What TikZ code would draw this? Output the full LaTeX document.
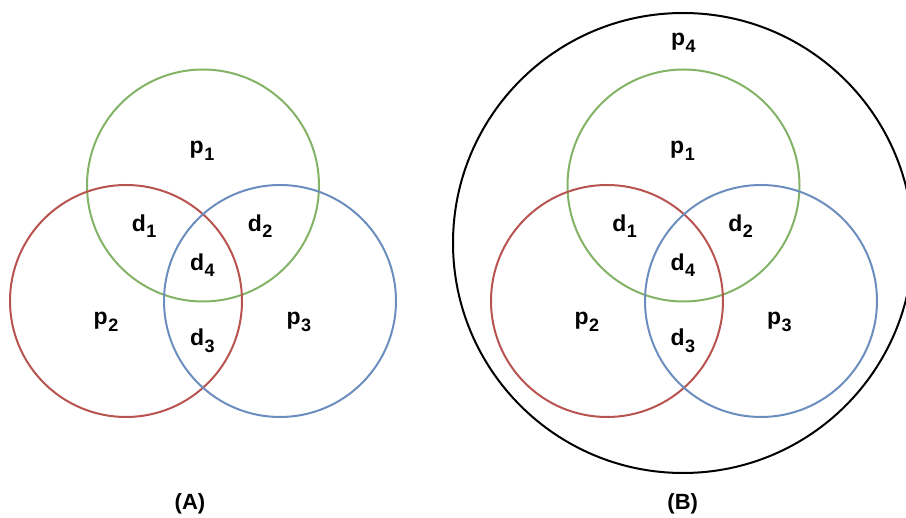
\documentclass[tikz,border=0pt]{standalone}
\usepackage{fontspec}
\setmainfont{Liberation Sans}
\definecolor{vgreen}{HTML}{82B366}
\definecolor{vred}{HTML}{B85450}
\definecolor{vblue}{HTML}{6C8EBF}
\newcommand{\lbl}[2]{#1\kern0.5pt\raisebox{-6.5pt}{\fontsize{18}{20}\selectfont #2}}
\begin{document}
\begin{tikzpicture}[x=1pt,y=-1pt,
  ring/.style={line width=2pt},
  lab/.style={font=\fontsize{23}{27}\selectfont\bfseries, inner sep=0pt, anchor=base},
  captxt/.style={font=\fontsize{22}{26}\selectfont\bfseries, inner sep=0pt, anchor=base}]
\useasboundingbox (0,0) rectangle (906,518);
\begin{scope}
\clip (0,0) rectangle (906,518);
\draw[ring, black] (683,243) circle (230pt);
\end{scope}
% (A)
\draw[ring, vgreen] (203,185.5) circle (116pt);
\draw[ring, vred] (126,301) circle (116pt);
\draw[ring, vblue] (280,301) circle (116pt);
\node[lab] (ap1) at (202,154) {\lbl{p}{1}};
\node[lab] (ad1) at (144.2,231.5) {\lbl{d}{1}};
\node[lab] (ad2) at (260.2,231.5) {\lbl{d}{2}};
\node[lab] (ad4) at (202.3,270.5) {\lbl{d}{4}};
\node[lab] (ap2) at (106,325) {\lbl{p}{2}};
\node[lab] (ad3) at (202.3,346) {\lbl{d}{3}};
\node[lab] (ap3) at (298.8,325) {\lbl{p}{3}};
\node[captxt] (capA) at (190,510) {(A)};
% (B)
\draw[ring, vgreen] (683.5,185.5) circle (116pt);
\draw[ring, vred] (607,301) circle (116pt);
\draw[ring, vblue] (761,301) circle (116pt);
\node[lab] (bp4) at (683.3,46) {\lbl{p}{4}};
\node[lab] (bp1) at (682.5,154) {\lbl{p}{1}};
\node[lab] (bd1) at (624.7,231.5) {\lbl{d}{1}};
\node[lab] (bd2) at (740.7,231.5) {\lbl{d}{2}};
\node[lab] (bd4) at (682.8,270.5) {\lbl{d}{4}};
\node[lab] (bp2) at (586.8,325) {\lbl{p}{2}};
\node[lab] (bd3) at (682.8,346) {\lbl{d}{3}};
\node[lab] (bp3) at (779.3,325) {\lbl{p}{3}};
\node[captxt] (capB) at (682.7,510) {(B)};
\end{tikzpicture}
\end{document}
